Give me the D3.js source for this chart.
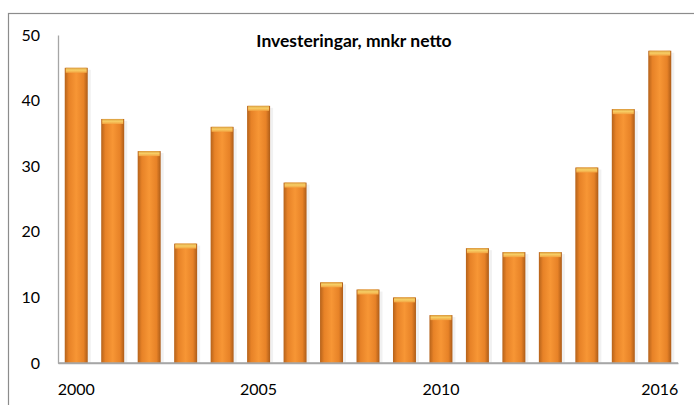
<!DOCTYPE html>
<html>
<head>
<meta charset="utf-8">
<script src="https://cdn.jsdelivr.net/npm/d3@7"></script>
<style>
  body { margin: 0; background: #fff; }
  text { font-family: Lato, "Open Sans", sans-serif; fill: #000; }
</style>
</head>
<body>
<div id="chart"></div>
<script>
// Data
var years = ["2000", "2001", "2002", "2003", "2004", "2005", "2006", "2007", "2008",
             "2009", "2010", "2011", "2012", "2013", "2014", "2015", "2016"];
var investments = [45.0, 37.2, 32.3, 18.2, 36.0, 39.2, 27.5, 12.3, 11.2,
                   10.0, 7.3, 17.5, 16.9, 16.9, 29.8, 38.7, 47.6];
var yTicks = [0, 10, 20, 30, 40, 50];
var xTickLabels = ["2000", "2005", "2010", "2016"];
var title = "Investeringar, mnkr netto";

var svgWidth = 694;
var svgHeight = 405;

var margin = { top: 35, right: 16, bottom: 42, left: 58 };
var width = svgWidth - margin.left - margin.right;
var height = svgHeight - margin.top - margin.bottom;

var svg = d3.select("#chart")
    .append("svg")
    .attr("width", svgWidth)
    .attr("height", svgHeight);

// outer chart frame (runs off the right and bottom edge)
svg.append("rect")
    .attr("x", 8.5)
    .attr("y", 13.5)
    .attr("width", 700)
    .attr("height", 420)
    .attr("fill", "none")
    .attr("stroke", "#8c8c8c")
    .attr("stroke-width", 1.2);

// gradients for the cylinder look
var defs = svg.append("defs");
var grad = defs.append("linearGradient")
    .attr("id", "barGrad")
    .attr("x1", "0").attr("x2", "1").attr("y1", "0").attr("y2", "0");
grad.append("stop").attr("offset", "0%").attr("stop-color", "#b5621a");
grad.append("stop").attr("offset", "18%").attr("stop-color", "#e78227");
grad.append("stop").attr("offset", "50%").attr("stop-color", "#f79635");
grad.append("stop").attr("offset", "82%").attr("stop-color", "#e78227");
grad.append("stop").attr("offset", "100%").attr("stop-color", "#ad5c18");

var capGrad = defs.append("linearGradient")
    .attr("id", "capGrad")
    .attr("x1", "0").attr("x2", "0").attr("y1", "0").attr("y2", "1");
capGrad.append("stop").attr("offset", "0%").attr("stop-color", "#d99a3c");
capGrad.append("stop").attr("offset", "45%").attr("stop-color", "#f7cf66");
capGrad.append("stop").attr("offset", "100%").attr("stop-color", "#f3a340");

var chartGroup = svg.append("g")
    .attr("transform", `translate(${margin.left}, ${margin.top})`);

// scales
var xBandScale = d3.scaleBand()
    .domain(years)
    .range([0, width])
    .paddingInner(0.37)
    .paddingOuter(0.185);

var yLinearScale = d3.scaleLinear()
    .domain([0, 50])
    .range([height, 0]);

// axes
var leftAxis = d3.axisLeft(yLinearScale)
    .tickValues(yTicks)
    .tickSize(0)
    .tickPadding(18);

var bottomAxis = d3.axisBottom(xBandScale)
    .tickValues(xTickLabels)
    .tickSize(0)
    .tickPadding(21);

var yAxisG = chartGroup.append("g").call(leftAxis);
yAxisG.select(".domain").attr("stroke", "#a6a6a6").attr("stroke-width", 1.3);
yAxisG.selectAll("text").attr("font-size", "16px");

var xAxisG = chartGroup.append("g")
    .attr("transform", `translate(0, ${height})`)
    .call(bottomAxis);
xAxisG.select(".domain").attr("stroke", "#a6a6a6").attr("stroke-width", 1.3);
xAxisG.selectAll("text").attr("font-size", "16px");

// faint shadows
chartGroup.selectAll(".shadow")
    .data(investments)
    .enter()
    .append("rect")
    .attr("class", "shadow")
    .attr("x", (d, i) => xBandScale(years[i]) + 3)
    .attr("y", d => yLinearScale(d) + 2)
    .attr("width", xBandScale.bandwidth())
    .attr("height", d => height - yLinearScale(d) - 2)
    .attr("fill", "#e8e8e8")
    .attr("opacity", 0.6);

// bars
chartGroup.selectAll(".bar")
    .data(investments)
    .enter()
    .append("rect")
    .attr("class", "bar")
    .attr("x", (d, i) => xBandScale(years[i]))
    .attr("y", d => yLinearScale(d))
    .attr("width", xBandScale.bandwidth())
    .attr("height", d => height - yLinearScale(d))
    .attr("fill", "url(#barGrad)");

// top caps
chartGroup.selectAll(".cap")
    .data(investments)
    .enter()
    .append("rect")
    .attr("class", "cap")
    .attr("x", (d, i) => xBandScale(years[i]) + 1)
    .attr("y", d => yLinearScale(d))
    .attr("width", xBandScale.bandwidth() - 2)
    .attr("height", 5)
    .attr("fill", "url(#capGrad)");

// redraw baseline on top of bars
chartGroup.append("line")
    .attr("x1", 0).attr("x2", width)
    .attr("y1", height).attr("y2", height)
    .attr("stroke", "#a6a6a6")
    .attr("stroke-width", 1.3);

// title
svg.append("text")
    .attr("x", 354)
    .attr("y", 47)
    .attr("text-anchor", "middle")
    .attr("font-size", "17.5px")
    .attr("font-weight", "bold")
    .text(title);
</script>
</body>
</html>
